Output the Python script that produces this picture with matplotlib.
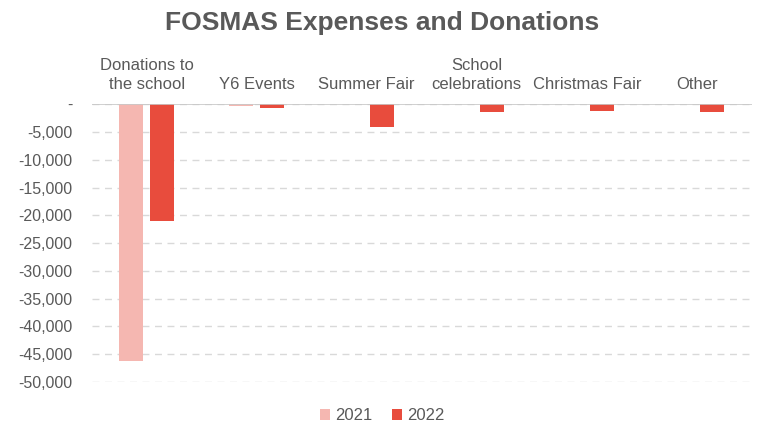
import matplotlib.pyplot as plt
import numpy as np
from matplotlib.ticker import FuncFormatter
from matplotlib.transforms import blended_transform_factory

##### DATA #####
categories = ["Donations to\nthe school", "Y6 Events", "Summer Fair",
              "School\ncelebrations", "Christmas Fair", "Other"]
years = ["2021", "2022"]
values_2021 = [-46200, -350, 0, 0, 0, 0]
values_2022 = [-21000, -750, -4200, -1350, -1150, -1350]
y_ticks = list(range(0, -50001, -5000))

##### STYLE #####
plt.rcParams['font.family'] = ['Liberation Sans', 'DejaVu Sans']
text_col = "#595959"
col_2021 = "#F5B7B1"
col_2022 = "#E84C3D"

fig = plt.figure(figsize=(7.64, 4.25), dpi=100)
ax = fig.add_axes([0.12, 0.101, 0.864, 0.654])

x = np.arange(len(categories))
w = 0.22
off = 0.14
ax.bar(x - off, values_2021, w, color=col_2021, label=years[0], zorder=3)
ax.bar(x + off, values_2022, w, color=col_2022, label=years[1], zorder=3)

ax.set_xlim(-0.5, len(categories) - 0.5)
ax.set_ylim(-50000, 0)
ax.set_yticks(y_ticks)
ax.yaxis.set_major_formatter(FuncFormatter(
    lambda v, p: "-" if v == 0 else "{:,.0f}".format(v)))
ax.tick_params(axis='y', length=0, pad=14, labelsize=11.5, labelcolor=text_col)
ax.set_xticks([])

# dashed gridlines, solid zero line
ax.grid(axis='y', color="#D9D9D9", linestyle=(0, (5, 4)), linewidth=1, zorder=0)
ax.axhline(0, color="#C8C8C8", linewidth=1.2, zorder=4)
for s in ax.spines.values():
    s.set_visible(False)

# category labels above the zero line
trans = blended_transform_factory(ax.transData, ax.transAxes)
for xi, lab in zip(x, categories):
    ax.text(xi, 1.045, lab, transform=trans, ha='center', va='bottom',
            fontsize=12, color=text_col, linespacing=1.3)

fig.text(0.5, 0.945, "FOSMAS Expenses and Donations", ha='center', va='center',
         fontsize=19, fontweight='bold', color=text_col)

leg = fig.legend(loc='center', bbox_to_anchor=(0.5, 0.022), ncol=2, frameon=False,
                 fontsize=12, handlelength=0.6, handleheight=0.6,
                 handletextpad=0.3, columnspacing=1.2)
for t in leg.get_texts():
    t.set_color(text_col)

plt.savefig("out.png", dpi=100)
